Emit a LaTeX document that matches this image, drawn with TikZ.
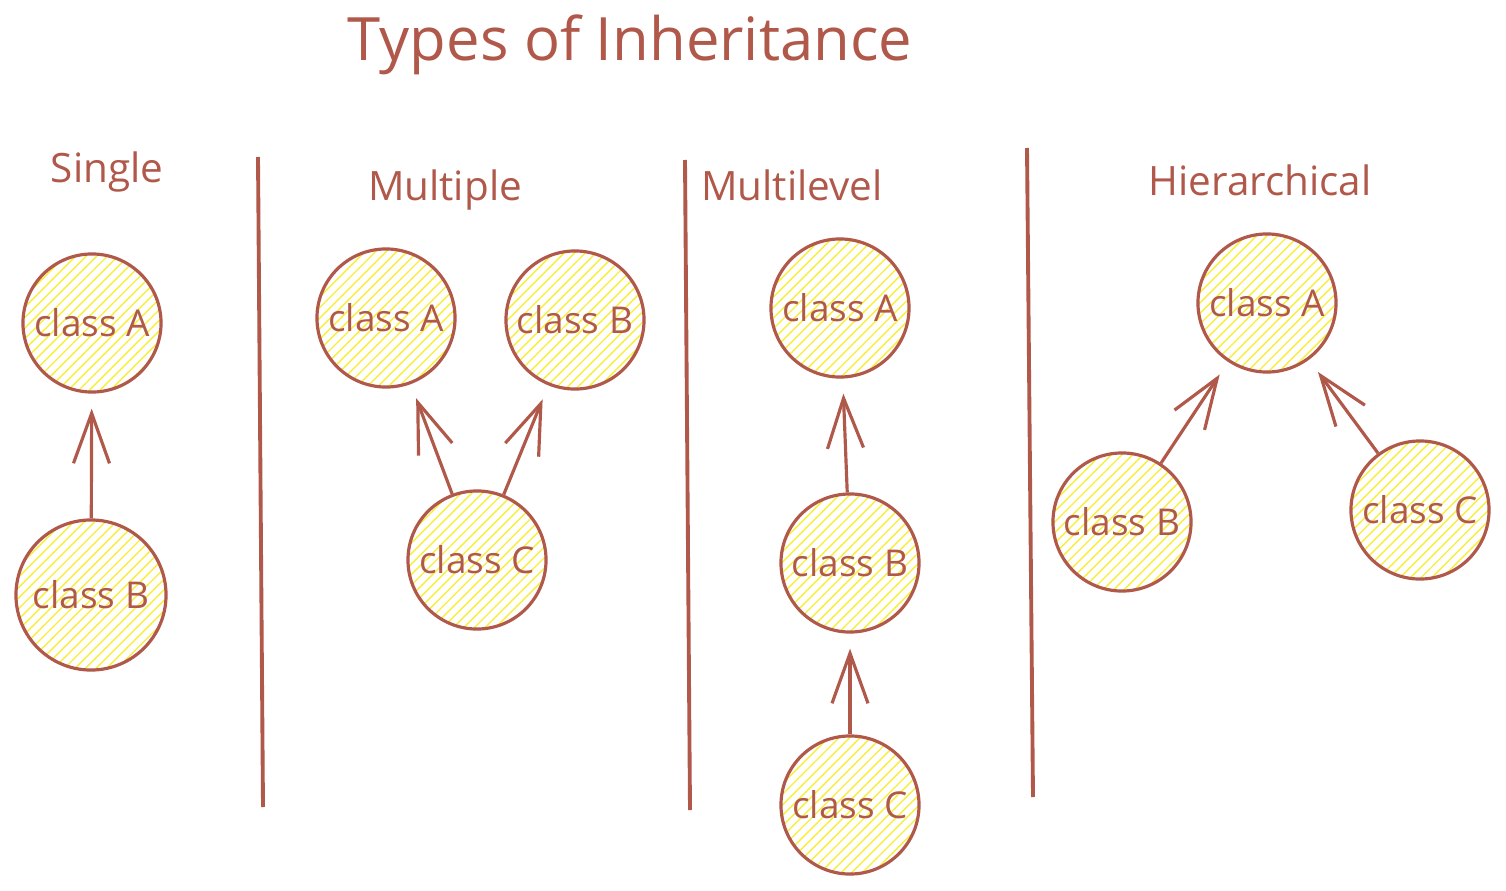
\documentclass[tikz,border=0pt]{standalone}
\usepackage{fontspec}
\setmainfont{Open Sans}
\usetikzlibrary{positioning, patterns, arrows.meta}
\definecolor{sketchred}{RGB}{176,88,74}
\definecolor{hatchyellow}{RGB}{248,238,60}

\begin{document}
\begin{tikzpicture}[x=0.01cm, y=-0.01cm,
	klasse/.style={circle, draw=sketchred, line width=0.9pt, minimum size=1.38cm, inner sep=0pt, pattern=north east lines, pattern color=hatchyellow, text=sketchred, font=\fontsize{10.5}{12}\selectfont},
	erbt/.style={draw=sketchred, line width=0.9pt, -{Straight Barb[length=5mm, width=3.6mm]}, shorten >=1.5mm},
	kopf/.style={text=sketchred, font=\fontsize{11.5}{14}\selectfont},
	trenner/.style={draw=sketchred, line width=1.1pt}]
	\useasboundingbox (0,0) rectangle (1506,891);
	\node at (630,45) [text=sketchred, font=\fontsize{17}{20}\selectfont] (titel) {Types of Inheritance};
	% Single
	\node at (107,172) [kopf] (single) {Single};
	\node at (92,323) [klasse] (singleA) {class A};
	\node at (91,595) [klasse, minimum size=1.5cm] (singleB) {class B};
	\draw [erbt] (singleB) -- (singleA);
	% Multiple
	\node at (445,190) [kopf] (multiple) {Multiple};
	\node at (386,318) [klasse] (multiA) {class A};
	\node at (575,320) [klasse] (multiB) {class B};
	\node at (477,560) [klasse] (multiC) {class C};
	\draw [erbt] (multiC) -- (multiA);
	\draw [erbt] (multiC) -- (multiB);
	% Multilevel
	\node at (792,185) [kopf] (multilevel) {Multilevel};
	\node at (840,308) [klasse] (levelA) {class A};
	\node at (850,563) [klasse] (levelB) {class B};
	\node at (850,805) [klasse] (levelC) {class C};
	\draw [erbt] (levelB) -- (levelA);
	\draw [erbt] (levelC) -- (levelB);
	% Hierarchical
	\node at (1260,180) [kopf] (hierarchical) {Hierarchical};
	\node at (1267,303) [klasse] (hierA) {class A};
	\node at (1122,522) [klasse] (hierB) {class B};
	\node at (1420,510) [klasse] (hierC) {class C};
	\draw [erbt] (hierB) -- (hierA);
	\draw [erbt] (hierC) -- (hierA);
	% Trennlinien
	\coordinate (t1o) at (258,157); \coordinate (t1u) at (263,807);
	\coordinate (t2o) at (685,160); \coordinate (t2u) at (690,810);
	\coordinate (t3o) at (1027,148); \coordinate (t3u) at (1033,797);
	\draw [trenner] (t1o) -- (t1u);
	\draw [trenner] (t2o) -- (t2u);
	\draw [trenner] (t3o) -- (t3u);
\end{tikzpicture}
\end{document}
